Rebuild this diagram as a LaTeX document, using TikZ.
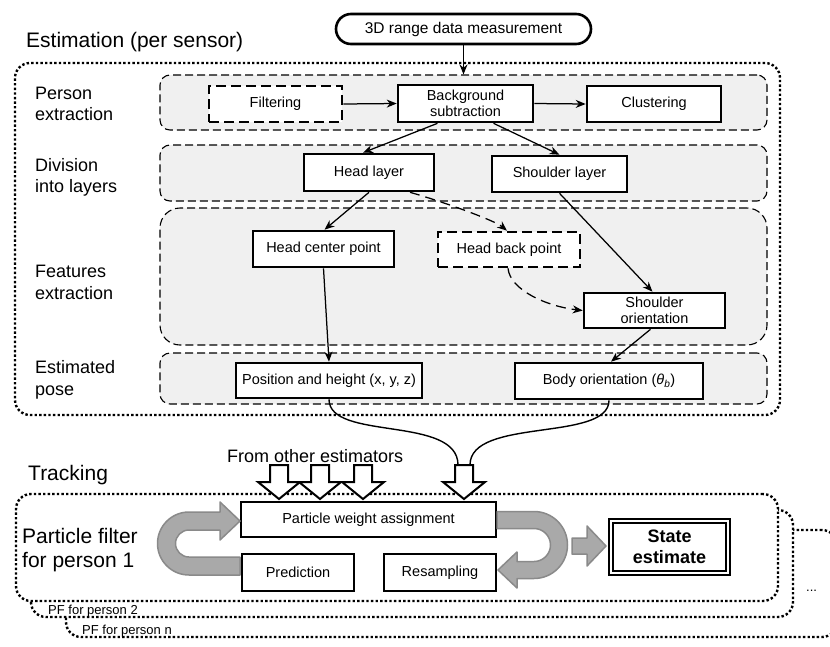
\documentclass[tikz,border=0pt]{standalone}
\usepackage{fontspec}
\setmainfont{Liberation Sans}
\usetikzlibrary{arrows.meta,calc}
\definecolor{bandgray}{HTML}{F0F0F0}
\definecolor{pfill}{HTML}{A9A9A9}
\definecolor{pdraw}{HTML}{8A8A8A}
\newcommand\fsbx{\fontsize{14.5}{16.5}\selectfont}
\newcommand\fslab{\fontsize{18}{21.5}\selectfont}
\newcommand\fstit{\fontsize{21}{24}\selectfont}
\newcommand\fspf{\fontsize{21}{24}\selectfont}
\newcommand\fssmall{\fontsize{13}{15}\selectfont}
\newcommand\fsstate{\fontsize{18}{21}\selectfont\bfseries}
\newcommand\fsmeas{\fontsize{15.5}{18}\selectfont}
\newcommand\fsfrom{\fontsize{18}{21}\selectfont}
\tikzset{
  bx/.style={draw, line width=2.6pt, fill=white, align=center, inner sep=1pt, font=\fsbx},
  dbx/.style={bx, dash pattern=on 10pt off 5pt},
  band/.style={draw, line width=1.1pt, dash pattern=on 8pt off 4pt, fill=bandgray, rounded corners=10pt, inner sep=0pt},
  dotbox/.style={draw, line width=2.4pt, dash pattern=on 2.4pt off 2.2pt, rounded corners=15pt, inner sep=0pt},
  arr/.style={-{Stealth[length=10pt,width=8pt]}, line width=1.25pt},
  darr/.style={arr, dash pattern=on 10pt off 6pt},
  grayarr/.style={fill=pfill, draw=pdraw, line width=1.5pt, line join=round},
  openarr/.style={fill=white, draw=black, line width=2pt, line join=miter},
  lab/.style={anchor=west, align=left, font=\fslab, inner sep=0pt},
}
\begin{document}
\begin{tikzpicture}[x=1pt,y=-1pt]
\useasboundingbox (0,0) rectangle (830,646);
\clip (0,0) rectangle (830,646);

% ---------- Estimation part ----------
\node[dotbox, minimum width=765, minimum height=352] (est) at (397.5,239) {};
\node[anchor=base west, font=\fstit, inner sep=0pt] (esttitle) at (26,47) {Estimation (per sensor)};

\node[bx, rounded corners=15pt, minimum width=255, minimum height=30, font=\fsmeas] (meas) at (463.5,29) {3D range data measurement};

\node[band, minimum width=607, minimum height=55] (pe) at (463.5,102.5) {};
\node[band, minimum width=607, minimum height=56] (dl) at (463.5,173) {};
\node[band, rounded corners=20pt, minimum width=607, minimum height=137] (fe) at (463.5,276.5) {};
\node[band, minimum width=607, minimum height=51] (ep) at (463.5,378.5) {};

\node[lab] (lpe) at (35,104) {Person\\extraction};
\node[lab] (ldl) at (35,177.5) {Division\\into layers};
\node[lab] (lfe) at (35,282.5) {Features\\extraction};
\node[lab] (lep) at (35,380) {Estimated\\pose};

\node[dbx, minimum width=133, minimum height=36] (filt) at (275.5,104) {Filtering};
\node[bx, minimum width=135, minimum height=37] (bg) at (465.5,103.5) {Background\\subtraction};
\node[bx, minimum width=134, minimum height=36] (clus) at (654,104) {Clustering};
\node[bx, minimum width=130, minimum height=37] (head) at (369,172.5) {Head layer};
\node[bx, minimum width=135, minimum height=36] (shl) at (559.5,174) {Shoulder layer};
\node[bx, minimum width=141, minimum height=36] (hcp) at (323.5,249) {Head center point};
\node[dbx, minimum width=142, minimum height=35] (hbp) at (509,249.5) {Head back point};
\node[bx, minimum width=141, minimum height=35] (sho) at (654.5,310.5) {Shoulder\\orientation};
\node[bx, minimum width=186, minimum height=35] (pos) at (329,380.5) {Position and height (x, y, z)};
\node[bx, minimum width=188, minimum height=36] (body) at (609,381) {Body orientation (\textit{θ}\textsubscript{\textit{b}})};

\draw[arr] (meas.south) -- (meas.south |- pe.north);
\draw[arr] (filt.east) -- (bg.west);
\draw[arr] (bg.east) -- (clus.west);
\draw[arr] ([xshift=-28pt]bg.south) -- ([xshift=-6pt]head.north);
\draw[arr] ([xshift=28pt]bg.south) -- (shl.north);
\draw[arr] (head.south) -- ([xshift=1pt]hcp.north);
\draw[darr] ([xshift=41pt]head.south) .. controls +(35,10) and +(-12,-10) .. ([xshift=-2pt]hbp.north);
\draw[darr] ([xshift=-1pt]hbp.south) .. controls +(2,22) and +(-35,-4) .. (sho.west);
\draw[arr] (shl.south) -- ([xshift=-2pt]sho.north);
\draw[arr] (hcp.south) -- (pos.north);
\draw[arr] ([xshift=-4pt]sho.south) -- ([xshift=2pt]body.north);

% ---------- Tracking part ----------
\node[anchor=base west, font=\fstit, inner sep=0pt] (tracktitle) at (28,480) {Tracking};
\node[anchor=base west, font=\fsfrom, inner sep=0pt] (from) at (227,462) {From other estimators};

\node[dotbox, fill=white, minimum width=771, minimum height=107] (pfn) at (451.5,583.5) {};
\node[dotbox, fill=white, minimum width=762, minimum height=107] (pf2) at (412,563.5) {};
\node[dotbox, fill=white, minimum width=762, minimum height=107] (pf1) at (397,547.5) {};
\node[anchor=base west, font=\fssmall, inner sep=0pt] (lpf2) at (48,614) {PF for person 2};
\node[anchor=base west, font=\fssmall, inner sep=0pt] (lpfn) at (82,634) {PF for person n};
\node[anchor=base west, font=\fssmall, inner sep=0pt] (more) at (806,591) {...};

\node[anchor=west, align=left, font=\fspf, inner sep=0pt] (lpf1) at (22,549.7) {Particle filter\\for person 1};

\node[bx, minimum width=255, minimum height=35] (pwa) at (368.5,519.5) {Particle weight assignment};
\node[bx, minimum width=112, minimum height=37] (pred) at (298,572.5) {Prediction};
\node[bx, minimum width=112, minimum height=37] (res) at (440,572.5) {Resampling};
\node[draw, line width=1.8pt, double=white, double distance=2.2pt, fill=white, align=center,
      font=\fsstate, minimum width=117.6, minimum height=52.6, inner sep=0pt] (state) at (669.5,547) {State\\estimate};

% curves from the estimated pose into the tracker
\coordinate (c1) at (458,465);
\coordinate (c2) at (470,465);
\draw[line width=1.4pt] (pos.south) .. controls +(0,42) and +(0,-50) .. (c1);
\draw[line width=1.4pt] (body.south) .. controls +(0,42) and +(0,-48) .. (c2);

% open block arrows
\foreach \c in {279,320,363,464}{
  \draw[openarr, shift={(\c,0)}] (-9,465) -- (9,465) -- (9,482) -- (21,482) -- (0,499) -- (-21,482) -- (-9,482) -- cycle;
}

% gray loop arrows
\path[grayarr] (240,575) -- (189,575) arc[start angle=90, end angle=270, radius=31.5]
  -- (220,512) -- (220,502) -- (240,521) -- (220,540) -- (220,530) -- (189,530)
  arc[start angle=270, end angle=90, radius=13.5] -- (240,557) -- cycle;
\path[grayarr] (497,511.5) -- (534,511.5) arc[start angle=-90, end angle=90, radius=33.5]
  -- (517,578.5) -- (517,588) -- (498,570) -- (517,552) -- (517,561.5) -- (534,561.5)
  arc[start angle=90, end angle=-90, radius=16.5] -- (497,528.5) -- cycle;
\path[grayarr] (572,538) -- (587,538) -- (587,526) -- (606,546) -- (587,566) -- (587,554) -- (572,554) -- cycle;
\end{tikzpicture}
\end{document}
